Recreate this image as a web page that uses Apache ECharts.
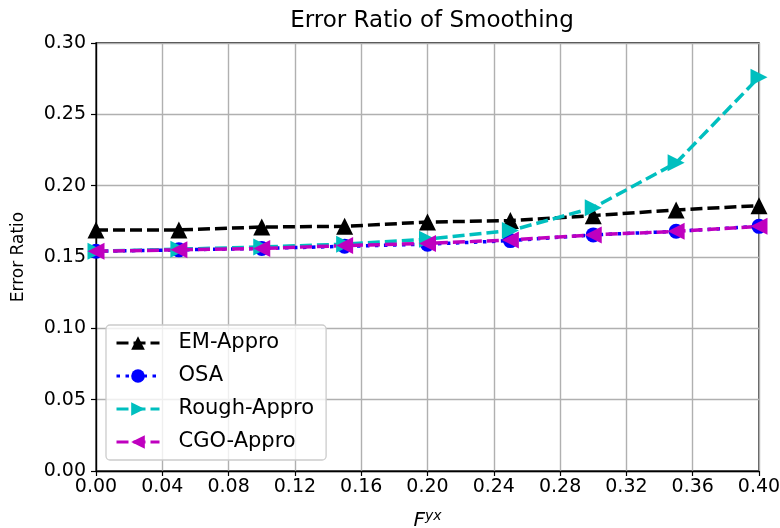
<!DOCTYPE html>
<html>
<head>
<meta charset="utf-8">
<script src="https://cdn.jsdelivr.net/npm/echarts@6/dist/echarts.min.js"></script>
<style>
  html, body { margin: 0; padding: 0; background: #fff; }
  #chart { width: 780px; height: 528px; }
</style>
</head>
<body>
<div id="chart"></div>
<script>
// F^{yx} sample points
const fValues = [0.00, 0.05, 0.10, 0.15, 0.20, 0.25, 0.30, 0.35, 0.40];

// Error ratio per method
const emAppro    = [0.169, 0.169, 0.171, 0.1715, 0.1745, 0.1755, 0.179, 0.183, 0.186];
const osa        = [0.154, 0.155, 0.156, 0.1575, 0.159, 0.1615, 0.1655, 0.168, 0.1715];
const roughAppro = [0.154, 0.1555, 0.157, 0.159, 0.1625, 0.1685, 0.1845, 0.216, 0.276];
const cgoAppro   = [0.154, 0.155, 0.156, 0.158, 0.1595, 0.162, 0.1655, 0.168, 0.1715];

const xTicks = { min: 0, max: 0.40, interval: 0.04 };
const yTicks = { min: 0, max: 0.30, interval: 0.05 };

const pairs = (ys) => fValues.map((x, i) => [x, ys[i]]);

const FONT = 'DejaVu Sans';

const chart = echarts.init(document.getElementById('chart'), null, { renderer: 'canvas' });

function lineSeries(name, ys, color, lineType, symbol, size, rotate) {
  return {
    name: name,
    type: 'line',
    data: pairs(ys),
    symbol: symbol,
    symbolSize: size,
    symbolRotate: rotate || 0,
    showAllSymbol: true,
    itemStyle: { color: color },
    lineStyle: { color: color, width: 3.5, type: lineType },
    emphasis: { disabled: true },
    animation: false
  };
}

chart.setOption({
  animation: false,
  title: {
    text: 'Error Ratio of Smoothing',
    left: 427,
    textAlign: 'center',
    top: 5,
    textStyle: { fontFamily: FONT, fontSize: 23, fontWeight: 'normal', color: '#000' }
  },
  grid: {
    left: 96, right: 21, top: 43, bottom: 57,
    outerBoundsMode: 'none',
    containLabel: false,
    show: true, borderColor: '#000', borderWidth: 1.3, backgroundColor: 'transparent'
  },
  legend: {
    orient: 'vertical',
    left: 106,
    top: 325,
    padding: [6, 12, 6, 9],
    itemGap: 9,
    itemWidth: 43,
    itemHeight: 17,
    backgroundColor: 'rgba(255,255,255,0.8)',
    borderColor: '#cccccc',
    borderWidth: 1.3,
    borderRadius: 4,
    lineStyle: { width: 3 },
    textStyle: { fontFamily: FONT, fontSize: 21, lineHeight: 24, color: '#000', padding: [0, 0, 0, 14] },
    data: ['EM-Appro', 'OSA', 'Rough-Appro', 'CGO-Appro']
  },
  xAxis: {
    type: 'value',
    min: xTicks.min, max: xTicks.max, interval: xTicks.interval,
    name: '{i|F}{s|yx}',
    nameLocation: 'middle',
    nameGap: 38,
    nameTextStyle: {
      rich: {
        i: { fontFamily: FONT, fontStyle: 'italic', fontSize: 20, color: '#000' },
        s: { fontFamily: FONT, fontStyle: 'italic', fontSize: 14, color: '#000', verticalAlign: 'top', padding: [0, 0, 10, 0] }
      }
    },
    axisLine: { show: true, lineStyle: { color: '#000', width: 1.3 } },
    axisTick: { show: true, inside: false, length: 5, lineStyle: { color: '#000', width: 1.2 } },
    axisLabel: {
      fontFamily: FONT, fontSize: 19, color: '#000', margin: 7,
      formatter: (v) => v.toFixed(2)
    },
    splitLine: { show: true, lineStyle: { color: '#b0b0b0', width: 1.4 } }
  },
  yAxis: {
    type: 'value',
    min: yTicks.min, max: yTicks.max, interval: yTicks.interval,
    name: 'Error Ratio',
    nameLocation: 'middle',
    nameGap: 69,
    nameTextStyle: { fontFamily: FONT, fontSize: 17, color: '#000' },
    axisLine: { show: true, lineStyle: { color: '#000', width: 1.3 } },
    axisTick: { show: true, inside: false, length: 5, lineStyle: { color: '#000', width: 1.2 } },
    axisLabel: {
      fontFamily: FONT, fontSize: 19, color: '#000', margin: 10,
      formatter: (v) => v.toFixed(2)
    },
    splitLine: { show: true, lineStyle: { color: '#b0b0b0', width: 1.4 } }
  },
  series: [
    lineSeries('EM-Appro', emAppro, '#000000', [12, 5], 'triangle', 17, 0),
    lineSeries('OSA', osa, '#0000ff', [3.5, 5.5], 'circle', 15, 0),
    lineSeries('Rough-Appro', roughAppro, '#00bfbf', [12, 5], 'triangle', 17, -90),
    lineSeries('CGO-Appro', cgoAppro, '#bf00bf', [12, 5], 'triangle', 17, 90)
  ]
});
</script>
</body>
</html>
